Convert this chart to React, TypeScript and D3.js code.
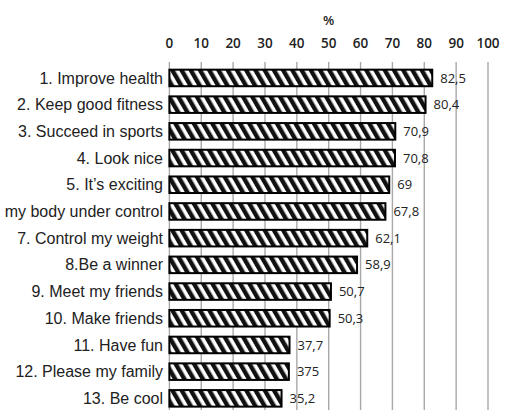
import React from "react";
import * as d3 from "d3";

const categories = [
  "1. Improve health",
  "2. Keep good fitness",
  "3. Succeed in sports",
  "4. Look nice",
  "5. It\u2019s exciting",
  "6. Keep my body under control",
  "7. Control my weight",
  "8.Be a winner",
  "9. Meet my friends",
  "10. Make friends",
  "11. Have fun",
  "12. Please my family",
  "13. Be cool",
];
const values = [82.5, 80.4, 70.9, 70.8, 69, 67.8, 62.1, 58.9, 50.7, 50.3, 37.7, 37.5, 35.2];
const valueLabels = ["82,5", "80,4", "70,9", "70,8", "69", "67,8", "62,1", "58,9", "50,7", "50,3", "37,7", "375", "35,2"];
const ticks = [0, 10, 20, 30, 40, 50, 60, 70, 80, 90, 100];
const axisTitle = "%";

export default function App() {
  const W = 506, H = 410;
  const x = d3.scaleLinear().domain([0, 100]).range([169.4, 488]);
  const y = d3.scaleBand<string>().domain(categories).range([64.6, 411.7]).paddingInner(0.38).paddingOuter(0.19);
  const bh = y.bandwidth();
  const tickFont = "'Open Sans', sans-serif";
  return (
    <svg width={W} height={H} style={{ position: "absolute", left: 0, top: 0, background: "#fff", overflow: "hidden" }}>
      <defs>
        <pattern id="hatch" patternUnits="userSpaceOnUse" width={8} height={8} patternTransform="rotate(-30)">
          <rect x={0} y={0} width={8} height={8} fill="#fff" />
          <rect x={0} y={0} width={4.4} height={8} fill="#111" />
        </pattern>
      </defs>
      <text x={x(50)} y={25} textAnchor="middle" fontFamily={tickFont} fontSize={13} fontWeight={600} fill="#222">{axisTitle}</text>
      {ticks.map((t) => (
        <g key={t}>
          <text x={x(t)} y={48} textAnchor="middle" fontFamily={tickFont} fontSize={13.5} fontWeight={600} fill="#222">{t}</text>
          <line x1={x(t)} x2={x(t)} y1={62} y2={H} stroke="#a8a8a8" strokeWidth={1.4} />
        </g>
      ))}
      {categories.map((c, i) => {
        const yy = y(c)!;
        return (
          <g key={c}>
            <rect x={x(0)} y={yy} width={x(values[i]) - x(0)} height={bh} fill="url(#hatch)" stroke="#000" strokeWidth={2} />
            <text x={163} y={yy + bh / 2} dy="0.35em" textAnchor="end" fontFamily="'Liberation Sans', Arial, sans-serif" fontSize={16} fill="#222">{c}</text>
            <text x={x(values[i]) + 8} y={yy + bh / 2} dy="0.35em" fontFamily={tickFont} fontSize={13} fill="#222">{valueLabels[i]}</text>
          </g>
        );
      })}
    </svg>
  );
}
